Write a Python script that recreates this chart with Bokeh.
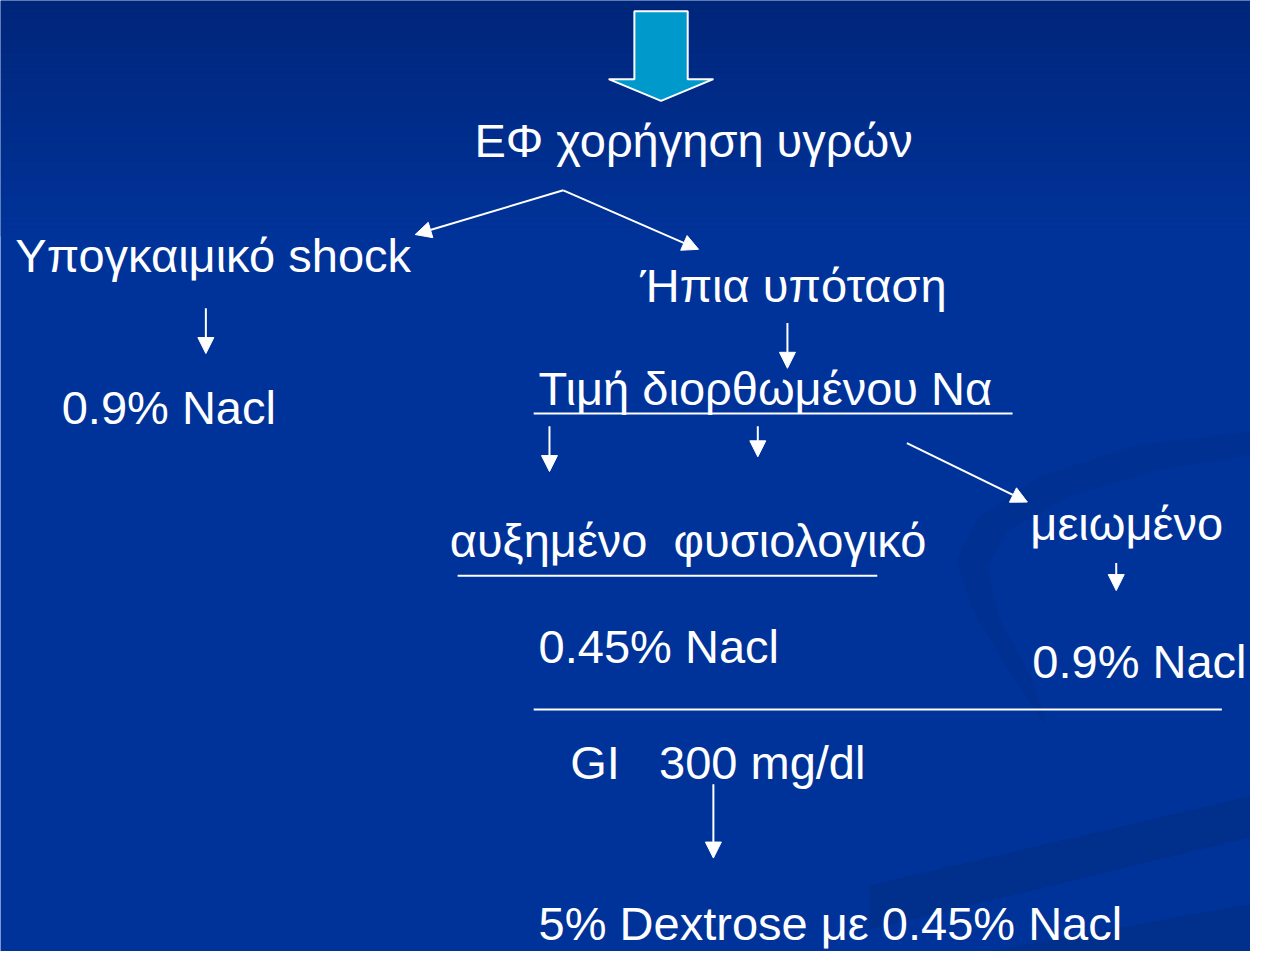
from bokeh.plotting import figure
from bokeh.models import Range1d, Arrow, NormalHead, ColumnDataSource
from bokeh.core.properties import value
from bokeh.embed import file_html
from bokeh.resources import INLINE

# ---- content (texts of the flowchart) ----
labels = ["ΕΦ χορήγηση υγρών", "Υπογκαιμικό shock", "Ήπια υπόταση", "0.9% Nacl",
          "Τιμή διορθωμένου Να", "αυξημένο\u00a0\u00a0φυσιολογικό", "μειωμένο", "0.45% Nacl",
          "0.9% Nacl", "GI\u00a0\u00a0\u00a0300 mg/dl", "5% Dextrose με 0.45% Nacl"]
label_x = [480, 15, 648, 62, 545, 455, 1043, 545, 1045, 577, 545]
label_y = [160, 277, 308, 432, 413, 567, 550, 675, 690, 793, 957]

# arrows (start -> end)
arr_x0 = [570, 570, 208, 797, 556, 767, 918, 1130, 722]
arr_y0 = [193, 193, 313, 328, 433, 433, 450, 572, 797]
arr_x1 = [420, 707, 208, 797, 556, 767, 1040, 1130, 722]
arr_y1 = [238, 253, 359, 374, 479, 464, 510, 600, 872]

# plain separator lines
ln_x0 = [540, 463, 540]
ln_x1 = [1025, 888, 1237]
ln_y = [420, 585, 721]

# big block arrow at top
block_x = [642, 696, 696, 722, 669, 616, 642]
block_y = [11, 11, 80, 80, 102, 80, 80]

W, H = 1250, 951
SW, SH = 1266, 967
p = figure(width=W, height=H, output_backend="svg", toolbar_location=None,
           x_range=Range1d(0, SW), y_range=Range1d(SH, 0),
           min_border=0, outline_line_color=None)
p.axis.visible = False
p.grid.visible = False
p.background_fill_color = "#003399"
p.border_fill_color = "#003399"

# vertical gradient at the top of the slide
n = 48
tops, bots, cols = [], [], []
c0 = (0, 38, 122)
c1 = (0, 51, 153)
for i in range(n):
    t = i / (n - 1)
    r = int(c0[0] + (c1[0] - c0[0]) * t)
    g = int(c0[1] + (c1[1] - c0[1]) * t)
    b = int(c0[2] + (c1[2] - c0[2]) * t)
    tops.append(i * 5)
    bots.append(i * 5 + 5)
    cols.append("#%02x%02x%02x" % (r, g, b))
p.quad(left=0, right=SW, top=tops, bottom=bots, fill_color=cols, line_color=None)

# subtle swoosh decorations
p.patch([1270, 1150, 1050, 990, 968, 985, 1020, 1060, 1045, 1010, 1000, 1020, 1080, 1170, 1270],
        [438, 452, 485, 525, 570, 620, 680, 740, 690, 625, 575, 540, 505, 478, 462],
        fill_color="#00308f", line_color=None, fill_alpha=0.8)
p.patch([880, 1270, 1270, 880], [900, 808, 850, 945], fill_color="#002f8c", line_color=None)
p.patch([1000, 1270, 1270, 1100], [967, 918, 967, 967], fill_color="#002f8c", line_color=None)

# block arrow
p.patch(block_x, block_y, fill_color="#0099cc", line_color="white", line_width=2)

# separator lines
p.segment(x0=ln_x0, y0=ln_y, x1=ln_x1, y1=ln_y, line_color="white", line_width=2)

# arrows
src = ColumnDataSource(dict(x0=arr_x0, y0=arr_y0, x1=arr_x1, y1=arr_y1))
p.add_layout(Arrow(x_start="x0", y_start="y0", x_end="x1", y_end="y1", source=src,
                   line_color="white", line_width=2,
                   end=NormalHead(size=16, fill_color="white", line_color="white", line_width=1)))

# texts (renderer places the alphabetic baseline lower; compensate)
BASE_SHIFT = 18
p.text(x=label_x, y=[v - BASE_SHIFT for v in label_y], text=labels,
       text_font=value("Liberation Sans"),
       text_font_size="47px", text_color="white", text_baseline="alphabetic",
       text_align="left")

open("out.html", "w").write(file_html(p, INLINE))
